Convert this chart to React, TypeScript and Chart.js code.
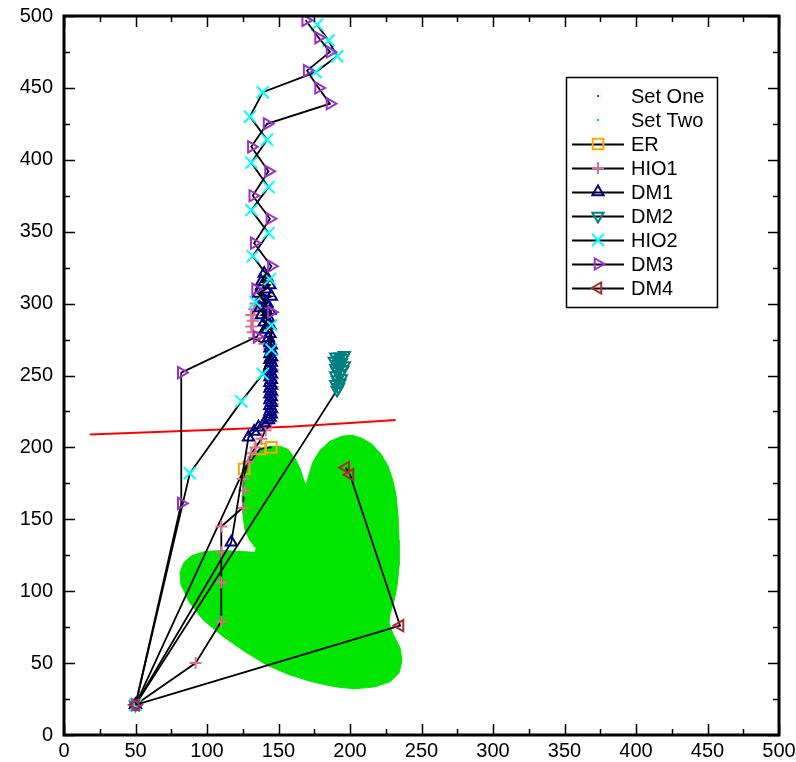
import React, { useEffect, useRef } from "react";
import { Chart, registerables } from "chart.js";
import { drawPoint } from "chart.js/helpers";

Chart.register(...registerables);

const FONT = "'Liberation Sans', Arial, Helvetica, sans-serif";

const X_TICKS = [0, 50, 100, 150, 200, 250, 300, 350, 400, 450, 500];
const Y_TICKS = [0, 50, 100, 150, 200, 250, 300, 350, 400, 450, 500];
const MINOR_STEP = 25;

const SERIES_LABELS = ["Set One", "Set Two", "ER", "HIO1", "DM1", "DM2", "HIO2", "DM3", "DM4"];

const SET_ONE: [number, number][] = [
  [18, 209], [60, 210.5], [110, 212.5], [160, 214.5], [200, 217], [232, 219],
];

// outline of the Set Two point cloud
const SET_TWO: [number, number][] = [
  [125, 184], [127, 190], [131.5, 194.6], [137, 198.7], [144, 200.8], [151, 200.8],
  [156.6, 198.7], [161.5, 192.5], [165, 185.5], [167.8, 177], [169.2, 173.6],
  [170.6, 178.5], [174, 189.7], [179, 198], [186, 204.3], [194.4, 207.8], [201.4, 208.5],
  [208.4, 206.4], [215.4, 202.2], [221.7, 195.3], [226.6, 187], [230, 177], [232.2, 166.7],
  [233.6, 152.7], [234.3, 135.3], [234.3, 118], [233, 104], [230.8, 93.4], [228, 84.4],
  [227.3, 78], [230, 70.4], [235, 60.7], [236.4, 51.6], [234.3, 43.2], [228, 37],
  [217.5, 33.5], [203.5, 32.1], [189.5, 33.5], [173.4, 37], [158, 41.8], [142.7, 48.1],
  [126.6, 57.9], [110.5, 69], [97.2, 80.2], [87.4, 92.7], [81.8, 104.6], [81.1, 113],
  [83.9, 120], [89.5, 124.8], [98.6, 127.6], [110.5, 128.3], [123, 127.6], [133.6, 127],
  [134.3, 129.7], [130, 135.3], [126.6, 142.3], [125.2, 152.7], [124.5, 166.7], [125, 184],
];

const ER: [number, number][] = [
  [50, 21], [126, 185], [137, 199], [145, 200],
];

const HIO1: [number, number][] = [
  [50, 21], [92, 50], [110, 79], [110, 106], [110, 127], [110, 145], [125, 158],
  [126, 170], [125, 178], [129, 190], [131, 196], [134, 200], [138, 206], [141, 212],
  [145, 218], [146, 224], [146, 230], [146, 236], [146, 242], [146, 248], [146, 254],
  [146, 260], [145, 266], [140, 272], [133, 276], [132, 280], [131, 284], [132, 288],
  [131, 292], [133, 296], [134, 300],
];

const DM1: [number, number][] = [
  [50, 21], [117, 134], [129, 207], [133, 211], [136, 214], [140, 217], [143, 219],
  [144, 221], [145, 223], [144, 225], [145, 227], [144, 229], [145, 231], [144, 233],
  [145, 235], [144, 237], [145, 239], [144, 241], [145, 243], [144, 245], [145, 247],
  [144, 249], [145, 251], [144, 253], [145, 255], [144, 257], [145, 259], [144, 261],
  [145, 263], [144, 265], [145, 267], [144, 269], [145, 271], [144, 273], [143, 276],
  [144, 279], [142, 282], [144, 285], [140, 287], [143, 290], [138, 292], [144, 295],
  [137, 297], [142, 300], [139, 303], [145, 305], [136, 307], [141, 310], [144, 313],
  [138, 315], [142, 318], [140, 321],
];

const DM2: [number, number][] = [
  [50, 21], [191, 240], [192, 242], [190, 244], [193, 245], [191, 247], [194, 248],
  [190, 250], [193, 251], [191, 253], [195, 254], [190, 255], [193, 256], [196, 257],
  [191, 258], [194, 259], [189, 260], [192, 261], [195, 262], [190, 263], [193, 263],
  [196, 264],
];

const HIO2: [number, number][] = [
  [50, 21], [88, 182], [124, 232], [139, 251], [145, 268], [145, 285], [134, 301],
  [144, 317], [132, 333], [143, 349], [131, 365], [143, 381], [131, 398], [142, 414],
  [130, 430], [139, 447], [176, 461], [191, 472], [185, 483], [177, 494],
];

const DM3: [number, number][] = [
  [50, 21], [82, 161], [82, 252], [135, 277], [145, 294], [134, 310], [145, 326],
  [133, 342], [144, 359], [132, 375], [143, 392], [131, 409], [142, 425], [186, 439],
  [178, 450], [170, 462], [186, 475], [178, 485], [169, 497],
];

const DM4: [number, number][] = [
  [50, 21], [235, 76], [200, 181], [197, 186],
];

type Style = { color: string; pointStyle: any; rotation: number; radius: number };

const STYLES: Style[] = [
  { color: "#ff0000", pointStyle: "circle", rotation: 0, radius: 0 },
  { color: "#00e600", pointStyle: "circle", rotation: 0, radius: 0 },
  { color: "#ffa500", pointStyle: "rect", rotation: 0, radius: 7.5 },
  { color: "#db7093", pointStyle: "cross", rotation: 0, radius: 6 },
  { color: "#000080", pointStyle: "triangle", rotation: 0, radius: 6.5 },
  { color: "#008080", pointStyle: "triangle", rotation: 180, radius: 6.5 },
  { color: "#00ffff", pointStyle: "crossRot", rotation: 0, radius: 8.5 },
  { color: "#9932cc", pointStyle: "triangle", rotation: 90, radius: 6.5 },
  { color: "#a52a2a", pointStyle: "triangle", rotation: 270, radius: 6.5 },
];

const toXY = (pts: [number, number][]) => pts.map(([x, y]) => ({ x, y }));

const framePlugin = {
  id: "frameAndLegend",
  afterDraw(chart: any) {
    const { ctx, chartArea } = chart;
    const { left, right, top, bottom } = chartArea;
    const xs = chart.scales.x;
    const ys = chart.scales.y;
    ctx.save();
    // ticks
    ctx.strokeStyle = "#000";
    ctx.lineWidth = 1.5;
    ctx.beginPath();
    for (let v = 0; v <= 500; v += MINOR_STEP) {
      const len = v % 50 === 0 ? 11 : 6;
      const px = Math.round(xs.getPixelForValue(v)) + 0.5;
      ctx.moveTo(px, bottom);
      ctx.lineTo(px, bottom - len);
      ctx.moveTo(px, top);
      ctx.lineTo(px, top + len);
      const py = Math.round(ys.getPixelForValue(v)) + 0.5;
      ctx.moveTo(left, py);
      ctx.lineTo(left + len, py);
      ctx.moveTo(right, py);
      ctx.lineTo(right - len, py);
    }
    ctx.stroke();
    // frame
    ctx.lineWidth = 3;
    ctx.strokeRect(left, top, right - left, bottom - top);

    // legend
    const bx = 566, by = 77, bw = 151, bh = 230;
    ctx.fillStyle = "#fff";
    ctx.fillRect(bx, by, bw, bh);
    ctx.lineWidth = 1.5;
    ctx.strokeStyle = "#000";
    ctx.strokeRect(bx + 0.5, by + 0.5, bw, bh);
    ctx.font = `20px ${FONT}`;
    ctx.textBaseline = "middle";
    ctx.textAlign = "left";
    chart.data.datasets.forEach((ds: any, i: number) => {
      const y = 96 + i * 24;
      const st = STYLES[i];
      if (i < 2) {
        ctx.fillStyle = st.color;
        ctx.fillRect(597, y - 1, 2, 2);
      } else {
        ctx.strokeStyle = "#000";
        ctx.lineWidth = 1.8;
        ctx.beginPath();
        ctx.moveTo(572, y + 0.5);
        ctx.lineTo(624, y + 0.5);
        ctx.stroke();
        ctx.strokeStyle = st.color;
        ctx.fillStyle = "rgba(0,0,0,0)";
        ctx.lineWidth = 2;
        drawPoint(ctx, { pointStyle: st.pointStyle, rotation: st.rotation, radius: st.radius, borderWidth: 2 }, 598, y);
      }
      ctx.fillStyle = "#000";
      ctx.fillText(ds.label, 631, y + 1);
    });
    ctx.restore();
  },
};

export default function App() {
  const ref = useRef<HTMLCanvasElement | null>(null);
  useEffect(() => {
    if (!ref.current) return;
    const all = [SET_ONE, SET_TWO, ER, HIO1, DM1, DM2, HIO2, DM3, DM4];
    const datasets: any[] = all.map((pts, i) => {
      const st = STYLES[i];
      const base: any = {
        label: SERIES_LABELS[i],
        data: toXY(pts),
        order: 100 - i,
        tension: 0,
      };
      if (i === 0) {
        return { ...base, borderColor: st.color, borderWidth: 2, pointRadius: 0, fill: false };
      }
      if (i === 1) {
        return {
          ...base,
          borderColor: st.color,
          backgroundColor: st.color,
          borderWidth: 1,
          pointRadius: 0,
          fill: "shape",
        };
      }
      return {
        ...base,
        borderColor: "#000",
        borderWidth: 1.8,
        fill: false,
        pointStyle: st.pointStyle,
        pointRotation: st.rotation,
        pointRadius: st.radius,
        pointBorderColor: st.color,
        pointBackgroundColor: "rgba(0,0,0,0)",
        pointBorderWidth: 2,
      };
    });
    const chart = new Chart(ref.current, {
      type: "line",
      data: { datasets },
      options: {
        animation: false,
        responsive: false,
        events: [],
        layout: { padding: { top: 16, right: 17, left: 0, bottom: 0 } },
        plugins: { legend: { display: false }, tooltip: { enabled: false } },
        scales: {
          x: {
            type: "linear",
            min: 0,
            max: 500,
            afterBuildTicks: (s: any) => {
              s.ticks = X_TICKS.map((v) => ({ value: v }));
            },
            afterFit: (s: any) => {
              s.height = 27;
              s.paddingLeft = 0;
              s.paddingRight = 0;
            },
            grid: { display: false, drawTicks: false },
            border: { display: false },
            ticks: {
              color: "#000",
              font: { family: FONT, size: 20 },
              padding: 4,
              maxRotation: 0,
              autoSkip: false,
            },
          },
          y: {
            type: "linear",
            min: 0,
            max: 500,
            afterBuildTicks: (s: any) => {
              s.ticks = Y_TICKS.map((v) => ({ value: v }));
            },
            afterFit: (s: any) => {
              s.width = 64;
              s.paddingTop = 0;
              s.paddingBottom = 0;
            },
            grid: { display: false, drawTicks: false },
            border: { display: false },
            ticks: {
              color: "#000",
              font: { family: FONT, size: 20 },
              padding: 11,
              autoSkip: false,
            },
          },
        },
      },
      plugins: [framePlugin],
    });
    return () => chart.destroy();
  }, []);
  return (
    <div style={{ position: "fixed", left: 0, top: 0, width: 796, height: 762, background: "#fff" }}>
      <canvas ref={ref} width={796} height={762} style={{ display: "block" }} />
    </div>
  );
}
